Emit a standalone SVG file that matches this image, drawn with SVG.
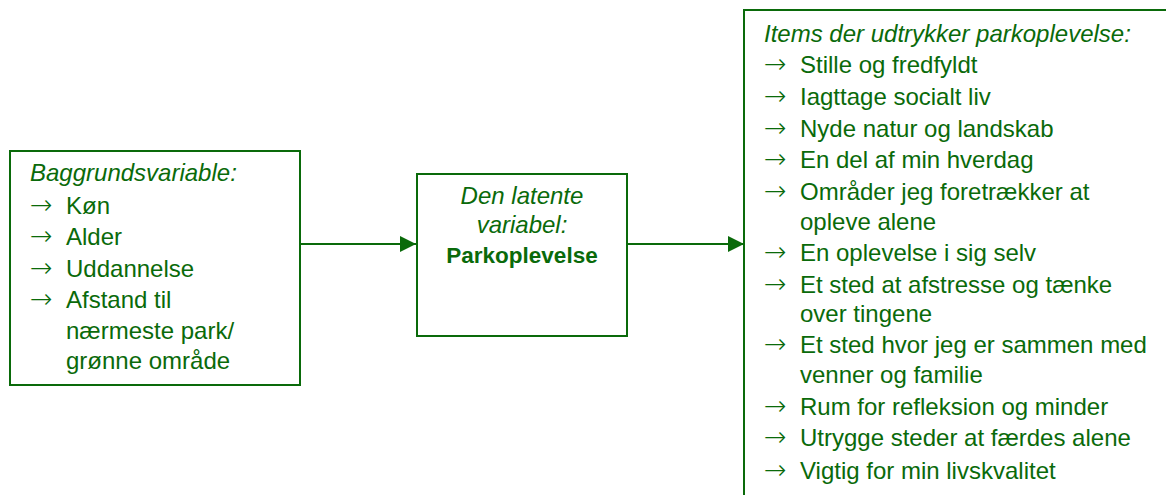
<svg xmlns="http://www.w3.org/2000/svg" width="1166" height="495" viewBox="0 0 1166 495">
<style>
.box{fill:#ffffff;stroke:#0a6a0a;stroke-width:2}
.t{font-family:"Liberation Sans",Arial,sans-serif;font-size:24px;fill:#0a6a0a}
.a{font-family:"DejaVu Sans",sans-serif;font-size:27px;font-weight:200;fill:#0a6a0a}
.i{font-style:italic}
.b{font-weight:bold;font-size:22.5px}
.c{text-anchor:middle}
.edge{stroke:#0a6a0a;stroke-width:2;fill:none}
</style>
<defs>
<marker id="ah" viewBox="0 0 16 16" refX="16" refY="8" markerWidth="16" markerHeight="16" markerUnits="userSpaceOnUse" orient="auto">
<path d="M0,0 L16,8 L0,16 Z" fill="#0a6a0a"/>
</marker>
</defs>
<rect width="1166" height="495" fill="#ffffff"/>
<g id="connectors">
<line class="edge" x1="301" y1="244" x2="416" y2="244" marker-end="url(#ah)"/>
<line class="edge" x1="628" y1="244" x2="744" y2="244" marker-end="url(#ah)"/>
</g>
<g id="baggrund">
<rect class="box" x="10" y="151" width="290" height="234"/>
<text class="t i" x="30" y="181">Baggrundsvariable:</text>
<text class="a" x="30" y="214">→</text><text class="t" x="66" y="214">Køn</text>
<text class="a" x="30" y="245">→</text><text class="t" x="66" y="245">Alder</text>
<text class="a" x="30" y="277">→</text><text class="t" x="66" y="277">Uddannelse</text>
<text class="a" x="30" y="308">→</text><text class="t" x="66" y="308">Afstand til</text>
<text class="t" x="66" y="339">nærmeste park/</text>
<text class="t" x="66" y="369">grønne område</text>
</g>
<g id="latent">
<rect class="box" x="417" y="174" width="210" height="162"/>
<text class="t i c" x="522" y="204">Den latente</text>
<text class="t i c" x="522" y="233">variabel:</text>
<text class="t b c" x="522" y="263">Parkoplevelse</text>
</g>
<g id="items">
<rect class="box" x="744" y="10" width="440" height="500"/>
<text class="t i" x="764" y="42">Items der udtrykker parkoplevelse:</text>
<text class="a" x="764" y="73">→</text><text class="t" x="800" y="73">Stille og fredfyldt</text>
<text class="a" x="764" y="105">→</text><text class="t" x="800" y="105">Iagttage socialt liv</text>
<text class="a" x="764" y="137">→</text><text class="t" x="800" y="137">Nyde natur og landskab</text>
<text class="a" x="764" y="168">→</text><text class="t" x="800" y="168">En del af min hverdag</text>
<text class="a" x="764" y="200">→</text><text class="t" x="800" y="200">Områder jeg foretrækker at</text>
<text class="t" x="800" y="230">opleve alene</text>
<text class="a" x="764" y="261">→</text><text class="t" x="800" y="261">En oplevelse i sig selv</text>
<text class="a" x="764" y="293">→</text><text class="t" x="800" y="293">Et sted at afstresse og tænke</text>
<text class="t" x="800" y="322">over tingene</text>
<text class="a" x="764" y="353">→</text><text class="t" x="800" y="353">Et sted hvor jeg er sammen med</text>
<text class="t" x="800" y="383">venner og familie</text>
<text class="a" x="764" y="415">→</text><text class="t" x="800" y="415">Rum for refleksion og minder</text>
<text class="a" x="764" y="446">→</text><text class="t" x="800" y="446">Utrygge steder at færdes alene</text>
<text class="a" x="764" y="479">→</text><text class="t" x="800" y="479">Vigtig for min livskvalitet</text>
</g>
</svg>
